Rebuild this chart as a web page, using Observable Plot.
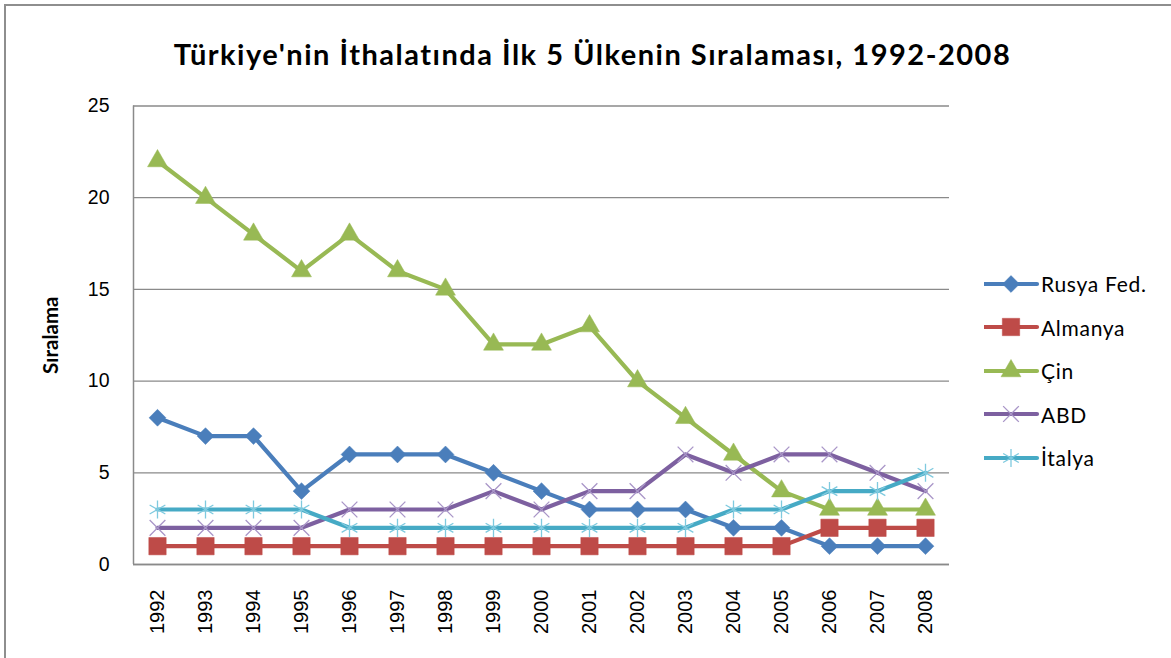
<!DOCTYPE html>
<html>
<head>
<meta charset="utf-8">
<script src="https://cdn.jsdelivr.net/npm/d3@7"></script>
<script src="https://cdn.jsdelivr.net/npm/@observablehq/plot@0.6"></script>
<style>
  html, body { margin: 0; padding: 0; background: #fff; }
  #wrap { position: relative; width: 1171px; height: 658px; overflow: hidden; background: #fff; }
  #frame { position: absolute; left: 4px; top: 4px; width: 1200px; height: 700px; border: 2px solid #8e8e8e; box-sizing: border-box; }
  #title { position: absolute; top: 36px; left: 0; width: 1185px; text-align: center; font-family: Lato, "Open Sans", sans-serif; font-weight: bold; font-size: 29px; color: #000; letter-spacing: 1.5px; }
  #chart { position: absolute; left: 0; top: 0; }
  #legend { position: absolute; left: 984px; top: 262px; font-family: Lato, "Open Sans", sans-serif; font-size: 21px; letter-spacing: 0.7px; color: #000; }
  .item { display: flex; align-items: center; height: 43.5px; }
  .item svg { margin-right: 1px; }
</style>
</head>
<body>
<div id="wrap">
  <div id="frame"></div>
  <div id="title">Türkiye'nin İthalatında İlk 5 Ülkenin Sıralaması, 1992-2008</div>
  <div id="chart"></div>
  <div id="legend"></div>
</div>
<script>
const years = [1992, 1993, 1994, 1995, 1996, 1997, 1998, 1999, 2000, 2001, 2002, 2003, 2004, 2005, 2006, 2007, 2008];
const rusyaFed = [8, 7, 7, 4, 6, 6, 6, 5, 4, 3, 3, 3, 2, 2, 1, 1, 1];
const almanya  = [1, 1, 1, 1, 1, 1, 1, 1, 1, 1, 1, 1, 1, 1, 2, 2, 2];
const cin      = [22, 20, 18, 16, 18, 16, 15, 12, 12, 13, 10, 8, 6, 4, 3, 3, 3];
const abd      = [2, 2, 2, 2, 3, 3, 3, 4, 3, 4, 4, 6, 5, 6, 6, 5, 4];
const italya   = [3, 3, 3, 3, 2, 2, 2, 2, 2, 2, 2, 2, 3, 3, 4, 4, 5];
const seriesNames = ["Rusya Fed.", "Almanya", "Çin", "ABD", "İtalya"];
const yTicks = [0, 5, 10, 15, 20, 25];

const seriesValues = [rusyaFed, almanya, cin, abd, italya];
const lineColors = ["#4A7EBB", "#BE4B48", "#98B954", "#7D60A0", "#46AAC5"];
const markColors = ["#4A7EBB", "#BE4B48", "#98B954", "#A996C8", "#7FCADF"];
const symbols = ["diamond2", "square", "triangle", "times", "asterisk"];
const radii = [7.6, 9.8, 7.4, 7.2, 8.6];
const filled = [true, true, true, false, false];

const xLabels = years.map(String);

const marks = [
  Plot.gridY(yTicks, { stroke: "#8a8a8a", strokeOpacity: 1, strokeWidth: 1.3 }),
  Plot.ruleY([0], { stroke: "#8a8a8a", strokeWidth: 1.5 }),
  Plot.ruleX([xLabels[0]], { dx: -24, stroke: "#8a8a8a", strokeWidth: 1.5 }),
  Plot.axisY(yTicks, { tickSize: 0, tickPadding: 24, fontSize: 19.5, fontFamily: "Liberation Sans, Arial, sans-serif", label: null, fill: "#000" }),
  Plot.axisX(xLabels, { tickSize: 0, tickPadding: 25, tickRotate: -90, fontSize: 20, fontFamily: "Liberation Sans, Arial, sans-serif", label: null, fill: "#000" }),
  Plot.text(["Sıralama"], { frameAnchor: "left", textAnchor: "middle", dx: -82, rotate: -90, fontSize: 20.5, fontWeight: "bold", fontFamily: "Lato, 'Open Sans', sans-serif", fill: "#000", letterSpacing: 0.5 })
];

seriesNames.forEach((name, i) => {
  const rows = years.map((y, j) => ({ year: String(y), value: seriesValues[i][j], series: name }));
  marks.push(Plot.line(rows, { x: "year", y: "value", stroke: lineColors[i], strokeWidth: 4.2, strokeLinejoin: "round", strokeLinecap: "round" }));
  marks.push(Plot.dot(rows, {
    x: "year", y: "value", symbol: () => symbols[i], r: radii[i],
    fill: filled[i] ? markColors[i] : "none",
    stroke: markColors[i], strokeWidth: filled[i] ? 0.5 : 1.3
  }));
});

const chart = Plot.plot({
  width: 1171,
  height: 658,
  marginTop: 105.5,
  marginBottom: 94,
  marginLeft: 133,
  marginRight: 222,
  style: { background: "transparent", overflow: "visible" },
  x: { type: "point", domain: xLabels, padding: 0.5, axis: null },
  y: { domain: [0, 25], axis: null },
  symbol: { type: "identity" },
  marks
});
document.getElementById("chart").appendChild(chart);

// legend
const legend = document.getElementById("legend");
seriesNames.forEach((name, i) => {
  const item = document.createElement("div");
  item.className = "item";
  const svg = d3.create("svg").attr("width", 56).attr("height", 24);
  svg.append("line").attr("x1", 1).attr("x2", 53).attr("y1", 12).attr("y2", 12)
    .attr("stroke", lineColors[i]).attr("stroke-width", 4.2).attr("stroke-linecap", "round");
  const symMap = { diamond2: d3.symbolDiamond2, square: d3.symbolSquare, triangle: d3.symbolTriangle, times: d3.symbolTimes, asterisk: d3.symbolAsterisk };
  const r = radii[i];
  svg.append("path").attr("transform", "translate(27,12)")
    .attr("d", d3.symbol(symMap[symbols[i]], r * r * Math.PI)())
    .attr("fill", filled[i] ? markColors[i] : "none")
    .attr("stroke", markColors[i]).attr("stroke-width", filled[i] ? 0.5 : 1.3);
  item.appendChild(svg.node());
  const label = document.createElement("span");
  label.textContent = name;
  item.appendChild(label);
  legend.appendChild(item);
});
</script>
</body>
</html>
